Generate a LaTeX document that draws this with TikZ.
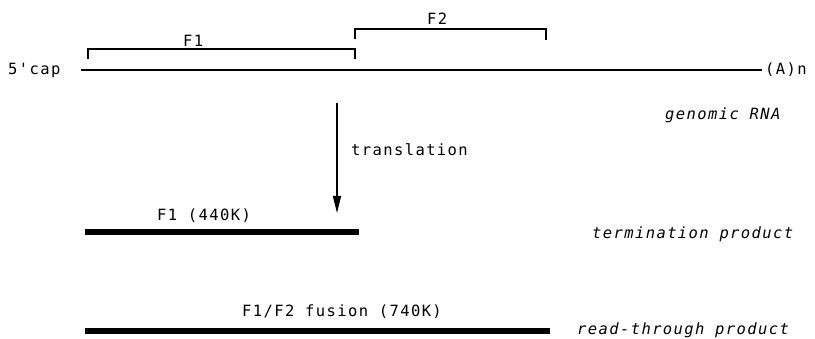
\documentclass[tikz,border=0pt]{standalone}
\usepackage{fontspec}
\newfontfamily\plotfont[LetterSpace=9]{DejaVu Sans Mono}
\usetikzlibrary{arrows.meta}
\begin{document}
\begin{tikzpicture}[x=1pt,y=-1pt,
  lbl/.style={inner sep=0pt,anchor=base west,font=\plotfont\fontsize{15.5}{17}\selectfont},
  ilbl/.style={lbl,font=\plotfont\itshape\fontsize{15.5}{17}\selectfont},
  rna/.style={line width=2.7pt},
  brk/.style={line width=1.2pt},
  bar/.style={line width=5.5pt},
  arr/.style={line width=1.3pt,-{Triangle[length=17pt,width=8pt]}}]
\useasboundingbox (0,0) rectangle (815,339);
% genomic RNA line
\coordinate (r0) at (81,70);
\coordinate (r1) at (762,70);
\draw[rna] (r0) -- (r1);
\node[lbl] (cap) at (8,75) {5'cap};
\node[lbl] (polyA) at (765,75) {(A)n};
% F1 bracket
\coordinate (b1a) at (88,59);
\coordinate (b1b) at (355,59);
\draw[brk] (b1a) -- ++(0,-10) -| (b1b);
\node[lbl] (f1) at (183,47) {F1};
% F2 bracket
\coordinate (b2a) at (355,39);
\coordinate (b2b) at (546,40);
\draw[brk] (b2a) -- ++(0,-10) -| (b2b);
\node[lbl] (f2) at (427,25) {F2};
\node[ilbl] (gen) at (665,120) {genomic RNA};
% translation arrow
\coordinate (aS) at (337,103);
\coordinate (aE) at (337,213);
\draw[arr] (aS) -- (aE);
\node[lbl] (tr) at (351,156) {translation};
% termination product
\coordinate (t0) at (85,232);
\coordinate (t1) at (359,232);
\draw[bar] (t0) -- (t1);
\node[lbl] (f1p) at (157,221) {F1 (440K)};
\node[ilbl] (term) at (592,239) {termination product};
% read-through product
\coordinate (u0) at (85,331);
\coordinate (u1) at (550,331);
\draw[bar] (u0) -- (u1);
\node[lbl] (f12p) at (242,317) {F1/F2 fusion (740K)};
\node[ilbl] (rt) at (577,335) {read-through product};
\end{tikzpicture}
\end{document}
